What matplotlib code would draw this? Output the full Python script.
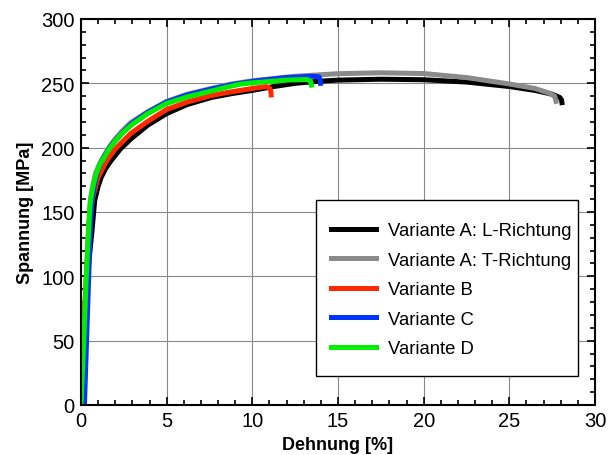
"""Spannungs-Dehnungs-Kurven der Varianten A-D."""

import matplotlib

matplotlib.use("Agg")
import matplotlib.pyplot as plt
from matplotlib.patches import Rectangle
from matplotlib.ticker import MultipleLocator

plt.rcParams["font.family"] = ["Liberation Sans", "DejaVu Sans"]

# Dehnung [%] / Spannung [MPa]
a_l_strain = [0, 0.3, 0.45, 0.64, 0.8, 1.0, 1.18, 1.45, 1.76, 2.3, 2.93, 3.9, 5.0, 6.2,
              7.6, 8.8, 10.0, 11.25, 12.5, 13.75, 15.0, 17.5, 20.0, 22.5, 25.0, 26.5,
              27.5, 27.95, 28.05, 28.07]
a_l_stress = [0, 80, 110, 135, 159, 170, 177, 184, 190, 199, 207, 217.5, 226.5, 233.5,
              239, 242, 244.5, 247.5, 250, 251.5, 252.5, 253.2, 252.8, 251, 247.5, 244.5,
              241.5, 239, 237, 235]

a_t_strain = [0, 0.2, 0.35, 0.45, 0.55, 0.7, 0.85, 1.1, 1.35, 1.65, 1.95, 2.4, 2.9, 3.9,
              5.0, 6.2, 7.6, 8.8, 10.0, 12.5, 15.0, 17.5, 20.0, 22.5, 25.0, 26.5, 27.3,
              27.65, 27.72]
a_t_stress = [0, 70, 110, 140, 160, 171, 180, 188, 194, 200.5, 206, 213, 219.5, 228,
              236, 241.5, 246, 249.5, 252, 255.5, 257.5, 258.2, 257.6, 254.5, 249.5, 246,
              242.5, 240, 236]

b_strain = [0, 0.2, 0.4, 0.5, 0.7, 1.0, 1.5, 2.0, 2.9, 3.9, 5.0, 6.2, 7.6, 8.5, 9.3,
            10.0, 10.8, 11.0, 11.08, 11.1]
b_stress = [0, 70, 120, 145, 162, 177, 190, 199, 211, 220.5, 229.7, 235.5, 240.5, 242.8,
            244.5, 246, 247.5, 246.5, 244, 241]

c_strain = [0.2, 0.3, 0.45, 0.55, 0.65, 0.8, 0.95, 1.15, 1.4, 1.7, 2.0, 2.45, 2.93, 3.9,
            5.0, 6.2, 7.6, 8.8, 10.0, 12.0, 13.5, 13.9, 13.96, 13.98]
c_stress = [0, 40, 100, 140, 160, 172, 181, 188, 194, 200.5, 205.5, 212, 218.5, 227.5,
            235.5, 241, 245.5, 249, 251.5, 254.5, 255.5, 255, 252.5, 250]

d_strain = [0, 0.16, 0.31, 0.41, 0.5, 0.56, 0.7, 0.89, 1.1, 1.38, 1.65, 1.96, 2.4, 2.93,
            3.9, 5.0, 6.2, 7.6, 8.5, 9.3, 10.0, 12.0, 13.2, 13.4, 13.45]
d_stress = [0, 50, 100, 128, 150, 159, 170, 180, 187, 193, 199, 204.5, 211, 217.5,
            226.5, 234.4, 239.5, 244, 247, 249.4, 250.4, 252.5, 253, 251.5, 248.6]

labels = ["Variante A: L-Richtung", "Variante A: T-Richtung", "Variante B",
          "Variante C", "Variante D"]
colors = ["#000000", "#8a8a8a", "#ff2800", "#0033ff", "#00ee00"]

series = [(a_l_strain, a_l_stress), (a_t_strain, a_t_stress), (b_strain, b_stress),
          (c_strain, c_stress), (d_strain, d_stress)]

fig = plt.figure(figsize=(6.08, 4.56), dpi=100)
ax = fig.add_axes([81 / 608, 50 / 456, 514 / 608, 386 / 456])

for (x, y), label, color in zip(series, labels, colors):
    ax.plot(x, y, color=color, lw=3.6, label=label, solid_joinstyle="round")

ax.set_xlim(0, 30)
ax.set_ylim(0, 300)
ax.xaxis.set_major_locator(MultipleLocator(5))
ax.xaxis.set_minor_locator(MultipleLocator(1))
ax.yaxis.set_major_locator(MultipleLocator(50))
ax.yaxis.set_minor_locator(MultipleLocator(10))
ax.grid(True, which="major", color="#888888", lw=0.8)
ax.set_axisbelow(True)
ax.tick_params(which="both", direction="in", top=True, right=True, labelsize=14.5,
               width=1.2, colors="black", pad=4.5)
ax.tick_params(which="major", length=6)
ax.tick_params(which="minor", length=3.5)
for spine in ax.spines.values():
    spine.set_linewidth(1.5)

ax.set_xlabel("Dehnung [%]", fontsize=13, fontweight="bold", labelpad=4)
ax.set_ylabel("Spannung [MPa]", fontsize=13, fontweight="bold", labelpad=5)

# Legendenrahmen separat, damit der Innenabstand wie im Original passt
ax.add_patch(Rectangle((0.4566, 0.0759), 0.967 - 0.4566, 0.532 - 0.0759,
                       transform=ax.transAxes, facecolor="white", edgecolor="black",
                       lw=1.0, zorder=4))
leg = ax.legend(loc="upper left", bbox_to_anchor=(0.486, 0.474), fontsize=13.3,
                frameon=False, handlelength=2.45, handletextpad=0.65,
                labelspacing=0.68, borderpad=0, borderaxespad=0)
leg.set_zorder(5)

fig.savefig("out.png", dpi=100)
